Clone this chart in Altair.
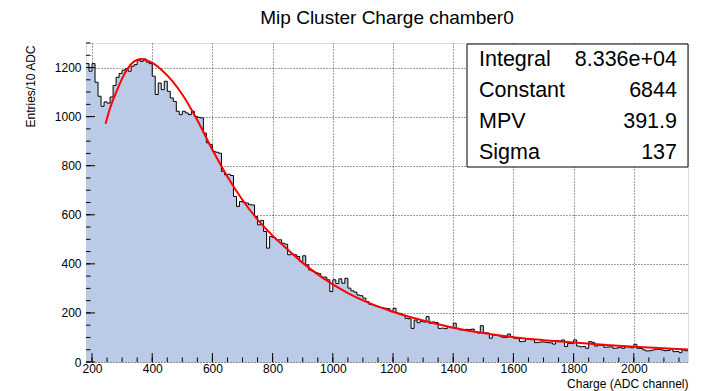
import altair as alt
import pandas as pd

# ---------------- data ----------------
bin_start = 180
bin_width = 10
counts = [
    1216, 1185, 1216, 1140, 1083, 1042, 1060, 1055, 1080, 1127,
    1160, 1176, 1189, 1195, 1185, 1205, 1212, 1230, 1225, 1235,
    1222, 1216, 1165, 1090, 1137, 1110, 1144, 1103, 1076, 1062,
    1022, 1008, 1022, 1015, 1008, 1022, 1001, 997, 995, 933,
    893, 886, 858, 855, 851, 777, 763, 765, 760, 675,
    634, 654, 651, 648, 641, 640, 593, 559, 577, 532,
    464, 511, 507, 498, 498, 484, 480, 437, 440, 437,
    430, 409, 433, 396, 375, 370, 365, 360, 346, 346,
    335, 287, 335, 320, 339, 321, 341, 301, 290, 285,
    273, 270, 260, 246, 235, 232, 228, 223, 222, 219,
    217, 205, 219, 199, 198, 190, 178, 176, 137, 171,
    160, 165, 163, 185, 158, 163, 161, 137, 138, 136,
    144, 140, 158, 137, 131, 130, 133, 132, 134, 124,
    118, 148, 120, 118, 97, 110, 108, 106, 101, 100,
    114, 103, 97, 95, 83, 84, 93, 92, 93, 79,
    80, 82, 81, 79, 78, 73, 87, 86, 90, 63,
    76, 75, 90, 65, 62, 63, 56, 83, 80, 65,
    69, 68, 60, 61, 62, 56, 57, 60, 56, 62,
    61, 58, 72, 56, 55, 49, 45, 46, 49, 52,
    51, 49, 46, 47, 53, 42, 43, 38, 49, 46,
]

fit_x = [245, 260, 284, 300, 317, 340, 362, 385, 406, 440, 467, 500, 550,
         600, 650, 700, 750, 800, 850, 900, 950, 1000, 1050, 1100, 1200,
         1300, 1400, 1500, 1600, 1700, 1800, 1900, 2000, 2100, 2180]
fit_y = [971, 1035, 1110, 1155, 1193, 1225, 1235, 1228, 1215, 1180, 1145,
         1090, 985, 865, 755, 660, 580, 515, 458, 404, 357, 316, 281, 251,
         205, 169, 140, 118, 101, 89, 79, 70, 62, 56, 51]

stat_names = ["Integral", "Constant", "MPV", "Sigma"]
stat_values = ["8.336e+04", "6844", "391.9", "137"]

x_major = [200, 400, 600, 800, 1000, 1200, 1400, 1600, 1800, 2000]
y_major = [0, 200, 400, 600, 800, 1000, 1200]
x_minor = list(range(200, 2180, 50))
y_minor = list(range(0, 1301, 50))

# ---------------- layout ----------------
W, H = 602, 319
FONT = "Liberation Sans"
FILL = "#bacae7"

hist_df = pd.DataFrame({
    "x": [bin_start + bin_width * i for i in range(len(counts))] + [bin_start + bin_width * len(counts)],
    "y": counts + [counts[-1]],
})
fit_df = pd.DataFrame({"x": fit_x, "y": fit_y})

xs = alt.Scale(domain=[180, 2180], nice=False, zero=False)
ys = alt.Scale(domain=[0, 1300], nice=False, zero=True)

x_axis = alt.Axis(values=x_major, grid=True, gridDash=[1, 2], gridColor="#000000",
                  gridOpacity=0.75, gridWidth=1, ticks=False, domain=False,
                  labelFont=FONT, labelFontSize=12, labelColor="black",
                  labelPadding=1, labelFlush=False, labelOverlap=False,
                  title="Charge (ADC channel)", titleFont=FONT, titleFontSize=12,
                  titleFontWeight="normal", titleColor="black",
                  titleX=W, titleY=21, titleAlign="right", titleBaseline="middle",
                  format="d")
y_axis = alt.Axis(values=y_major, grid=True, gridDash=[1, 2], gridColor="#000000",
                  gridOpacity=0.75, gridWidth=1, ticks=False, domain=False,
                  labelFont=FONT, labelFontSize=12, labelColor="black",
                  labelPadding=5, labelFlush=False, labelOverlap=False,
                  title="Entries/10 ADC", titleFont=FONT, titleFontSize=12,
                  titleFontWeight="normal", titleColor="black",
                  titleX=-56, titleY=2, titleAngle=270, titleAlign="right",
                  titleBaseline="middle", format="d")


def X(field):
    return alt.X(field, scale=xs, axis=x_axis, title="Charge (ADC channel)")


def Y(field):
    return alt.Y(field, scale=ys, axis=y_axis, title="Entries/10 ADC")


area = alt.Chart(hist_df).mark_area(interpolate="step-after", color=FILL, opacity=1).encode(
    x=X("x:Q"), y=Y("y:Q"))
outline = alt.Chart(hist_df).mark_line(interpolate="step-after", color="black", strokeWidth=1).encode(
    x=X("x:Q"), y=Y("y:Q"))
fit = alt.Chart(fit_df).mark_line(interpolate="monotone", color="#ff0000", strokeWidth=2).encode(
    x=X("x:Q"), y=Y("y:Q"))

xmaj_t = alt.Chart(pd.DataFrame({"x": x_major})).mark_rule(color="black", strokeWidth=1).encode(
    x=X("x:Q"), y=alt.value(H), y2=alt.value(H - 9))
xmin_t = alt.Chart(pd.DataFrame({"x": x_minor})).mark_rule(color="black", strokeWidth=1).encode(
    x=X("x:Q"), y=alt.value(H), y2=alt.value(H - 4.5))
ymaj_t = alt.Chart(pd.DataFrame({"y": y_major})).mark_rule(color="black", strokeWidth=1).encode(
    y=Y("y:Q"), x=alt.value(0), x2=alt.value(9))
ymin_t = alt.Chart(pd.DataFrame({"y": y_minor})).mark_rule(color="black", strokeWidth=1).encode(
    y=Y("y:Q"), x=alt.value(0), x2=alt.value(4.5))

box = alt.Chart(pd.DataFrame({"a": [0]})).mark_rect(fill="white", stroke="black", strokeWidth=1).encode(
    x=alt.value(381), x2=alt.value(W), y=alt.value(1), y2=alt.value(124))

stat_layers = []
for i, (nm, val) in enumerate(zip(stat_names, stat_values)):
    yy = 17 + 31 * i
    stat_layers.append(
        alt.Chart(pd.DataFrame({"t": [nm]})).mark_text(
            align="left", baseline="middle", font=FONT, fontSize=21.5, color="black").encode(
            text="t:N", x=alt.value(393), y=alt.value(yy)))
    stat_layers.append(
        alt.Chart(pd.DataFrame({"t": [val]})).mark_text(
            align="right", baseline="middle", font=FONT, fontSize=21.5, color="black").encode(
            text="t:N", x=alt.value(591), y=alt.value(yy)))

chart = alt.layer(area, outline, fit, xmaj_t, xmin_t, ymaj_t, ymin_t, box, *stat_layers).properties(
    width=W, height=H,
    title=alt.TitleParams("Mip Cluster Charge chamber0", font=FONT, fontSize=19,
                          fontWeight="normal", color="black", anchor="middle", offset=15),
    padding={"left": 86, "top": 43, "right": 25, "bottom": 29},
    autosize=alt.AutoSizeParams(type="none"),
).configure_view(stroke="black", strokeWidth=1).configure(background="white")

chart.save("out.html", embed_options={"renderer": "svg", "actions": False})
